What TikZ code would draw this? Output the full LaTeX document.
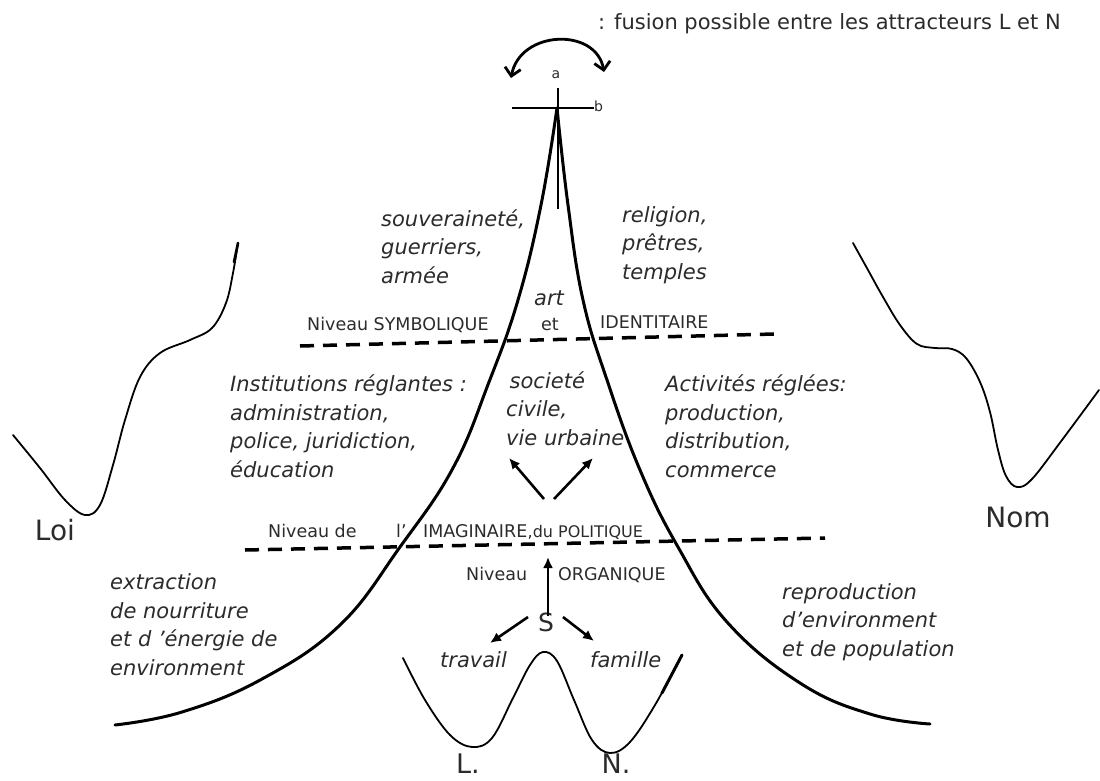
\documentclass[tikz,border=0pt]{standalone}
\usepackage{fontspec}
\setmainfont{DejaVu Sans}
\usetikzlibrary{arrows.meta}
\definecolor{tgray}{HTML}{2B2B2B}
\begin{document}
\begin{tikzpicture}[x=1pt,y=-1pt,
  lbl/.style={inner sep=0pt, anchor=base west, text=tgray, font=\fontsize{17.5}{20}\selectfont},
  itx/.style={inner sep=0pt, anchor=base west, text=tgray, align=left, font=\fontsize{21}{28.5}\selectfont\itshape},
  big/.style={inner sep=0pt, anchor=base, text=tgray, font=\fontsize{27}{30}\selectfont},
  mainc/.style={line width=3pt, line cap=round},
  pot/.style={line width=1.8pt, line cap=round},
  lev/.style={line width=3.5pt, dash pattern=on 14pt off 9pt},
  arr/.style={line width=2.6pt, -{Latex[length=11pt,width=10pt]}},
  barb/.style={line width=2.8pt, {Straight Barb[length=8pt,width=16pt,line width=2.8pt]}-{Straight Barb[length=8pt,width=16pt,line width=2.8pt]}},
]
\useasboundingbox (0,0) rectangle (1100,781);

% top legend
\node[lbl, font=\fontsize{21}{24}\selectfont] (fus) at (598,30) {: fusion possible entre les attracteurs L et N};
\coordinate (arcL) at (511,78);
\coordinate (arcR) at (604,72);
\draw[barb] (arcL) .. controls (520,30) and (596,27) .. (arcR);

% cross at the summit
\node[lbl, anchor=base, font=\fontsize{14}{16}\selectfont] (a) at (556,79) {a};
\node[lbl, font=\fontsize{14}{16}\selectfont] (b) at (594,112) {b};
\coordinate (hl) at (512,108);
\coordinate (vt) at (558,88);
\coordinate (vb) at (558,209);
\draw[line width=1.3pt] (hl) -- (b.west |- hl);
\draw[line width=1.3pt] (vt) -- (vb);

% main curves
\draw[mainc] plot[smooth, tension=0.7] coordinates {(557,108) (541,205) (518,300) (489,382) (453,468) (400,547) (340,625) (262,679) (182,712) (115,725)};
\draw[mainc] plot[smooth, tension=0.7] coordinates {(557,108) (568,205) (583,300) (607,380) (640,470) (678,547) (727,622) (800,683) (870,714) (930,724)};

% potential curves
\draw[pot] plot[smooth, tension=0.6] coordinates {(13,435) (40,468) (65,500) (85,515) (100,505) (113,465) (125,420) (140,377) (160,353) (190,340) (212,328) (226,303) (233,273) (238,243)};
\draw[line width=2.6pt, line cap=round] (234,262) -- (238,243);
\draw[pot] plot[smooth, tension=0.6] coordinates {(853,243) (868,270) (883,297) (900,325) (917,344) (935,348) (952,349) (966,358) (980,382) (990,412) (998,450) (1006,476) (1017,487) (1032,479) (1062,440) (1099,390)};
\draw[pot] plot[smooth, tension=0.6] coordinates {(403,658) (425,700) (450,735) (472,747) (492,738) (513,698) (530,665) (543,652) (557,661) (574,700) (592,740) (610,753) (630,742) (655,705) (682,655)};
\draw[line width=3pt, line cap=round] (662,693) -- (682,655);

% labels Loi / Nom / L. / N.
\node[big, font=\fontsize{28}{30}\selectfont] (loi) at (55,540) {Loi};
\node[big, font=\fontsize{28}{30}\selectfont] (nom) at (1018,527) {Nom};
\node[big] (Lmin) at (468,773) {L.};
\node[big] (Nmin) at (616,773) {N.};

% level lines
\draw[lev] (300,346) -- (775,334);
\draw[lev] (245,550) -- (825,538);

% symbolic level
\node[itx] (souv) at (381,283) {souveraineté,\\guerriers,\\armée};
\node[itx] (relig) at (622,279) {religion,\\prêtres,\\temples};
\node[itx, anchor=base] (art) at (549,305) {art};
\node[lbl, anchor=base] (et) at (550,330) {et};
\node[lbl] (nsym) at (307,330) {Niveau SYMBOLIQUE};
\node[lbl] (ident) at (600,328) {IDENTITAIRE};

% imaginary level
\node[itx] (inst) at (230,477) {Institutions réglantes :\\administration,\\police, juridiction,\\éducation};
\node[itx] (act) at (665,477) {Activités réglées:\\production,\\distribution,\\commerce};
\node[itx] (soc) at (506,445) {\,societé\\civile,\\vie urbaine};
\coordinate (fork) at (549,499);
\coordinate (tipL) at (509,458);
\coordinate (tipR) at (593,458);
\draw[arr] ([xshift=-5pt]fork) -- (tipL);
\draw[arr] ([xshift=5pt]fork) -- (tipR);
\node[lbl] (nde) at (268,537) {Niveau de};
\node[lbl] (lap) at (396,537) {l’};
\node[lbl] (imag) at (423,537) {IMAGINAIRE};
\node[lbl, font=\fontsize{16}{18}\selectfont] (pol) at (imag.base east) {,du POLITIQUE};

% organic level
\node[lbl] (norg) at (466,580) {Niveau};
\node[lbl] (org) at (558,580) {ORGANIQUE};
\node[big, font=\fontsize{25}{28}\selectfont] (S) at (546,631) {S};
\coordinate (orgtip) at (548,557);
\draw[arr] (S.north -| orgtip) ++(0,-4pt) -- (orgtip);
\draw[arr] (528,617) -- (490,643);
\draw[arr] (563,617) -- (594,641);
\node[itx] (trav) at (440,667) {travail};
\node[itx] (fam) at (590,667) {famille};

% outer labels
\node[itx] (extr) at (110,675) {extraction\\de nourriture\\et d ’énergie de\\environment};
\node[itx] (repr) at (782,656) {reproduction\\d’environment\\et de population};
\end{tikzpicture}
\end{document}
